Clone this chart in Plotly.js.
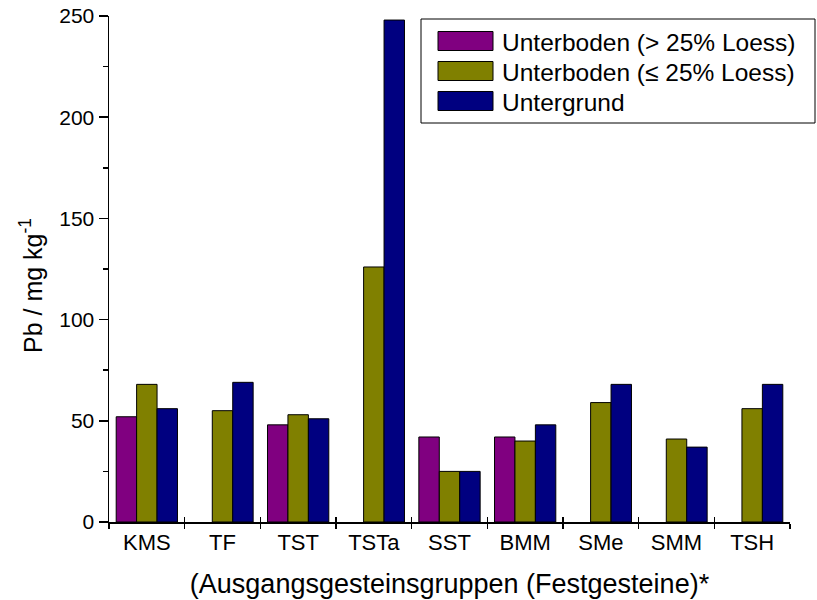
<!DOCTYPE html>
<html>
<head>
<meta charset="utf-8">
<script src="https://cdn.plot.ly/plotly-3.0.1.min.js"></script>
<style>html,body{margin:0;padding:0;background:#fff;}#chart{width:817px;height:600px;}</style>
</head>
<body>
<div id="chart"></div>
<script>
// ---- data ----
const categories = ['KMS','TF','TST','TSTa','SST','BMM','SMe','SMM','TSH'];
const seriesNames = ['Unterboden (> 25% Loess)', 'Unterboden (\u2264 25% Loess)', 'Untergrund'];
const unterbodenGt25 = [52, null, 48, null, 42, 42, null, null, null];
const unterbodenLe25 = [68, 55, 53, 126, 25, 40, 59, 41, 56];
const untergrund = [56, 69, 51, 248, 25, 48, 68, 37, 68];
const yTicks = [0, 50, 100, 150, 200, 250];
const yTitle = 'Pb / mg kg<sup>-1</sup>';
const xTitle = '(Ausgangsgesteinsgruppen (Festgesteine)*';

// ---- styles ----
const colors = ['#800080', '#808000', '#000080'];
const FONT = 'Liberation Sans, Arial, sans-serif';
const W = 817, H = 600;
const M = {l: 109, r: 27, t: 16, b: 78};
const plotW = W - M.l - M.r, plotH = H - M.t - M.b;
const px2x = p => (p - M.l) / plotW;
const py2y = p => (H - M.b - p) / plotH;

const values = [unterbodenGt25, unterbodenLe25, untergrund];
const traces = values.map((v, i) => ({
  type: 'bar', x: categories, y: v, name: seriesNames[i],
  marker: {color: colors[i], line: {color: '#000', width: 1}},
  showlegend: false, hoverinfo: 'x+y'
}));

// custom legend (box, swatches, labels)
const shapes = [{
  type: 'rect', xref: 'paper', yref: 'paper',
  x0: px2x(421), x1: px2x(815), y0: py2y(123), y1: py2y(19),
  line: {color: '#000', width: 1}, fillcolor: 'rgba(255,255,255,0)'
}];
const annotations = [];
seriesNames.forEach((n, i) => {
  const cy = 41 + 30 * i;
  shapes.push({
    type: 'rect', xref: 'paper', yref: 'paper',
    x0: px2x(438), x1: px2x(493), y0: py2y(cy + 9.5), y1: py2y(cy - 9.5),
    line: {color: '#000', width: 1}, fillcolor: colors[i]
  });
  annotations.push({
    xref: 'paper', yref: 'paper', x: px2x(500), y: py2y(cy + 1),
    xanchor: 'left', yanchor: 'middle', showarrow: false,
    text: n, font: {family: FONT, size: 24.5, color: '#000'}
  });
});
annotations.push({
  xref: 'paper', yref: 'paper', x: px2x(31), y: py2y(286),
  xanchor: 'center', yanchor: 'middle', showarrow: false, textangle: -90,
  text: yTitle, font: {family: FONT, size: 25, color: '#000'}
});

const layout = {
  width: W, height: H, margin: M,
  paper_bgcolor: '#fff', plot_bgcolor: '#fff',
  font: {family: FONT, size: 20, color: '#000'},
  barmode: 'group', bargap: 0.19, bargroupgap: 0,
  xaxis: {
    type: 'category', tickson: 'boundaries', ticks: 'outside', ticklen: 5, tickwidth: 1.5,
    tickcolor: '#000', showline: true, linecolor: '#000', linewidth: 1.5,
    showgrid: false, zeroline: false, tickfont: {size: 22},
    title: {text: xTitle, font: {size: 27}, standoff: 20}
  },
  xaxis2: {
    type: 'category', overlaying: 'x', matches: 'x', tickson: 'boundaries', ticks: 'inside',
    ticklen: 5, tickwidth: 1.5, tickcolor: '#000', showticklabels: false,
    showgrid: false, zeroline: false, showline: false, anchor: 'y', side: 'bottom'
  },
  yaxis: {
    range: [0, 250], tickvals: yTicks, ticks: 'outside', ticklen: 9, tickwidth: 1.5,
    tickcolor: '#000', showline: true, linecolor: '#000', linewidth: 1.5,
    showgrid: false, zeroline: false, tickfont: {size: 21},
    minor: {dtick: 25, tick0: 0, ticks: 'outside', ticklen: 5, tickwidth: 1.5, tickcolor: '#000', showgrid: false}
  },
  shapes: shapes, annotations: annotations
};
// invisible trace to carry xaxis2 ticks
traces.push({type: 'scatter', x: categories, y: categories.map(() => null), xaxis: 'x2', yaxis: 'y', showlegend: false, hoverinfo: 'skip'});

Plotly.newPlot('chart', traces, layout, {staticPlot: true});
</script>
</body>
</html>
